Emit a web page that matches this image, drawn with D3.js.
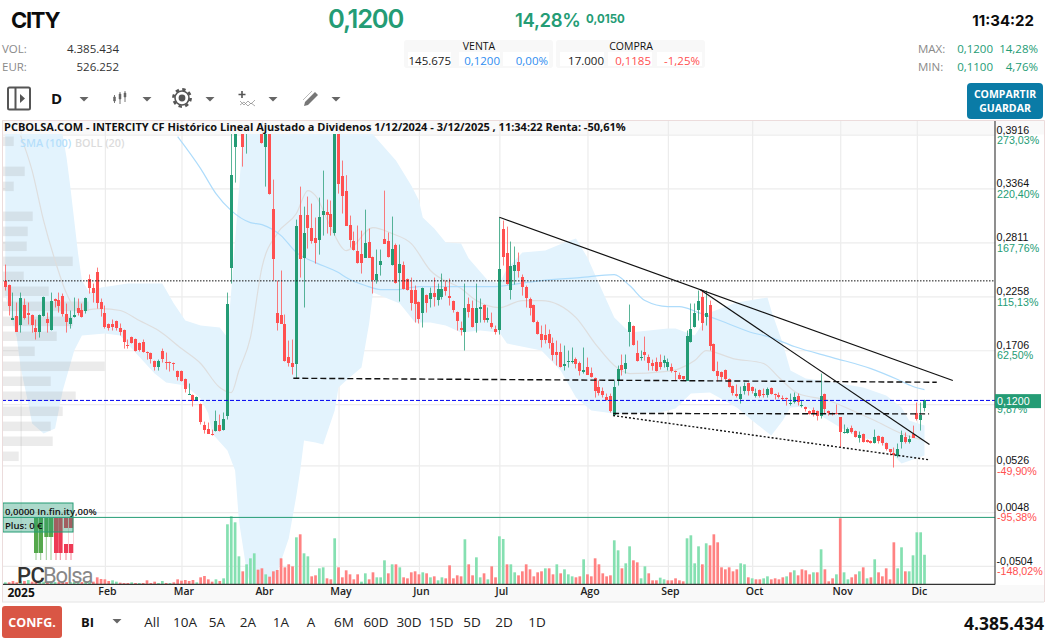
<!DOCTYPE html>
<html>
<head>
<meta charset="utf-8">
<title>CITY</title>
<script src="https://cdn.jsdelivr.net/npm/d3@7"></script>
<style>
body { margin: 0; background: #fff; }
svg { display: block; }
text { font-family: "Open Sans", sans-serif; }
</style>
</head>
<body>
<svg id="chart" width="1058" height="643"></svg>
<script>
// daily candles, EUR
var opens = [
.2420,.2379,.2021,.2062,.1970,.2174,.2092,.2072,.1939,.1898,
.2062,.2031,.1918,.2236,.2226,.2266,.2082,.1980,.2051,.2144,
.2123,.2113,.2441,.2348,.2512,.2205,.2092,.1980,.1970,.2010,
.1939,.1918,.1764,.1846,.1826,.1785,.1795,.1693,.1682,.1600,
.1539,.1703,.1590,.1590,.1580,.1498,.1498,.1416,.1252,.1252,
.1191,.1160,.0945,.0904,.0852,.0883,.0945,.0893,.1037,.2553,
.3783,.4000,.4100,.4000,.4050,.4150,.4300,.4300,.3793,.4000,
.3158,.2092,.2072,.1970,.1641,.1580,.1570,.3096,.2656,.3096,
.2963,.2861,.2840,.3096,.3127,.3107,.2902,.4000,.3496,.3342,
.2994,.2830,.2727,.2697,.2656,.2820,.2666,.2430,.2584,.2850,
.2830,.2584,.2789,.2502,.2584,.2441,.2328,.2328,.2205,.2092,
.2277,.2236,.2297,.2226,.2256,.2359,.2266,.2215,.2103,.1939,
.1898,.2185,.2144,.1990,.2133,.2174,.2021,.1990,.1928,.1918,
.2953,.2707,.2328,.2523,.2615,.2461,.2359,.2236,.2174,.2000,
.1877,.1867,.1877,.1785,.1693,.1693,.1549,.1590,.1590,.1621,
.1580,.1488,.1539,.1477,.1426,.1334,.1293,.1232,.1242,.1047,
.1396,.1559,.1518,.1898,.1959,.1682,.1631,.1693,.1641,.1580,
.1590,.1590,.1580,.1539,.1539,.1498,.1457,.1437,.1396,.1795,
.1949,.2123,.2256,.2051,.2174,.1775,.1498,.1488,.1508,.1416,
.1344,.1262,.1211,.1293,.1375,.1334,.1242,.1303,.1262,.1252,
.1324,.1262,.1252,.1221,.1221,.1160,.1180,.1242,.1139,.1129,
.1088,.1098,.1088,.1037,.1262,.1088,.1058,.1068,.1017,.0863,
.0863,.0914,.0883,.0811,.0852,.0791,.0781,.0760,.0832,.0822,
.0760,.0689,.0648,.0627,.0770,.0822,.0770,.0852,.1058,.0996,.1119];
var highs = [
.2584,.2379,.2297,.2195,.2297,.2236,.2195,.2072,.2021,.2072,
.2256,.2092,.2297,.2236,.2297,.2287,.2185,.2113,.2246,.2236,
.2185,.2246,.2482,.2389,.2553,.2236,.2164,.1980,.2021,.2010,
.1980,.1918,.1816,.1846,.1826,.1785,.1816,.1693,.1682,.1600,
.1610,.1723,.1682,.1590,.1580,.1498,.1498,.1416,.1365,.1252,
.1232,.1160,.0975,.0965,.0893,.1088,.1047,.1068,.2297,.4100,
.4200,.4300,.4200,.4200,.4300,.4400,.4350,.4400,.4200,.4100,
.3455,.2420,.2523,.2072,.1805,.1816,.3045,.3383,.3178,.3281,
.3209,.3066,.3270,.3547,.3250,.3240,.4100,.4100,.3650,.3500,
.3086,.2922,.2984,.2932,.3147,.2953,.2666,.2738,.2738,.3342,
.2912,.3076,.2799,.2789,.2615,.2441,.2451,.2369,.2205,.2348,
.2277,.2348,.2451,.2389,.2492,.2420,.2441,.2215,.2103,.2000,
.2389,.2246,.2215,.2389,.2236,.2174,.2144,.2092,.1959,.3066,
.3035,.2973,.2820,.2769,.2707,.2482,.2369,.2246,.2174,.2010,
.1959,.1970,.1918,.1836,.1805,.1775,.1754,.1703,.1734,.1631,
.1590,.1734,.1631,.1529,.1426,.1396,.1324,.1262,.1262,.1396,
.1549,.1662,.1662,.2174,.1959,.1805,.1703,.1846,.1662,.1610,
.1631,.1662,.1651,.1621,.1570,.1498,.1477,.1437,.1908,.2185,
.2185,.2318,.2318,.2318,.2215,.1775,.1590,.1488,.1508,.1416,
.1344,.1355,.1334,.1375,.1375,.1334,.1313,.1303,.1313,.1324,
.1324,.1262,.1273,.1242,.1221,.1262,.1273,.1262,.1191,.1129,
.1088,.1119,.1088,.1467,.1262,.1088,.1068,.1150,.1017,.0945,
.0914,.0934,.0883,.0873,.0852,.0791,.0781,.0893,.0832,.0822,
.0760,.0689,.0709,.0750,.0883,.0863,.0832,.0934,.1170,.1170,.1200];
var lows = [
.2318,.2062,.2021,.1898,.1887,.2021,.1970,.1887,.1816,.1836,
.2051,.1887,.1908,.2144,.2092,.2051,.1887,.1928,.2041,.2062,
.2041,.2082,.2287,.2195,.2133,.2051,.1928,.1908,.1908,.1908,
.1857,.1723,.1723,.1775,.1693,.1693,.1682,.1610,.1570,.1498,
.1498,.1580,.1508,.1488,.1498,.1396,.1385,.1273,.1252,.1129,
.1191,.0945,.0852,.0852,.0832,.0873,.0873,.0883,.0996,.2389,
.3424,.3950,.3588,.3721,.3950,.4000,.4000,.3824,.3383,.3301,
.2420,.1908,.1980,.1590,.1539,.1457,.1416,.2451,.2144,.2748,
.2799,.2594,.2686,.2881,.2902,.2881,.2881,.3311,.3107,.2984,
.2758,.2727,.2594,.2492,.2656,.2656,.2287,.2389,.2471,.2799,
.2656,.2574,.2389,.2205,.2328,.2318,.2113,.1990,.1980,.1939,
.2092,.2144,.2154,.2164,.2226,.2266,.2164,.2092,.1908,.1857,
.1703,.2041,.1939,.1887,.1990,.1990,.1990,.1928,.1867,.1867,
.2574,.2379,.2226,.2379,.2451,.2266,.2144,.2062,.1990,.1867,
.1734,.1775,.1723,.1600,.1549,.1529,.1498,.1529,.1570,.1519,
.1447,.1467,.1457,.1426,.1221,.1242,.1221,.1191,.1068,.1037,
.1344,.1447,.1467,.1744,.1754,.1590,.1600,.1600,.1498,.1498,
.1488,.1508,.1529,.1498,.1477,.1396,.1406,.1396,.1396,.1785,
.1939,.2010,.1908,.1959,.1703,.1488,.1385,.1396,.1396,.1324,
.1242,.1221,.1160,.1252,.1242,.1262,.1221,.1221,.1221,.1221,
.1252,.1201,.1211,.1191,.1139,.1139,.1160,.1139,.1119,.1078,
.1047,.1027,.0986,.1006,.1058,.1037,.1037,.1047,.0709,.0852,
.0852,.0852,.0811,.0760,.0760,.0760,.0750,.0750,.0750,.0729,
.0678,.0627,.0504,.0607,.0699,.0750,.0750,.0811,.0986,.0883,.1078];
var closes = [
.2359,.2164,.2041,.1898,.2246,.2041,.2072,.1970,.1898,.2072,
.2256,.1990,.2215,.2215,.2164,.2082,.2000,.2041,.2072,.2092,
.2051,.2246,.2348,.2297,.2195,.2133,.1949,.1939,.1939,.1939,
.1898,.1795,.1754,.1785,.1703,.1713,.1693,.1682,.1621,.1539,
.1600,.1621,.1580,.1580,.1570,.1437,.1396,.1313,.1262,.1191,
.1232,.0975,.0893,.0852,.0842,.0986,.0883,.1006,.2185,.3506,
.4000,.4150,.3793,.4100,.4150,.4300,.4200,.3824,.4100,.3301,
.2646,.1990,.1980,.1590,.1580,.1539,.2984,.2646,.2912,.2963,
.2830,.2810,.3076,.3137,.3096,.2973,.4000,.3404,.3291,.2984,
.2840,.2737,.2604,.2604,.2809,.2656,.2430,.2492,.2625,.2799,
.2666,.2748,.2400,.2594,.2338,.2328,.2195,.2185,.2031,.2348,
.2195,.2297,.2256,.2338,.2338,.2318,.2246,.2123,.2010,.1918,
.2144,.2103,.1949,.2144,.2154,.2021,.2041,.1949,.1898,.2543,
.2666,.2389,.2574,.2584,.2523,.2359,.2246,.2144,.2000,.1877,
.1816,.1816,.1785,.1662,.1662,.1539,.1570,.1600,.1600,.1570,
.1498,.1508,.1457,.1437,.1293,.1273,.1252,.1201,.1088,.1334,
.1518,.1508,.1580,.2000,.1764,.1600,.1641,.1662,.1580,.1549,
.1498,.1539,.1610,.1590,.1498,.1488,.1416,.1406,.1857,.1928,
.2092,.2215,.1990,.2092,.1754,.1498,.1447,.1437,.1416,.1334,
.1273,.1242,.1262,.1344,.1293,.1293,.1273,.1242,.1252,.1313,
.1262,.1252,.1232,.1211,.1211,.1170,.1232,.1180,.1150,.1109,
.1058,.1058,.1037,.1242,.1109,.1068,.1047,.1058,.0863,.0873,
.0904,.0873,.0822,.0842,.0770,.0770,.0760,.0822,.0781,.0760,
.0699,.0658,.0627,.0699,.0842,.0770,.0801,.0811,.0996,.1047,.1200];
// volume, millions of shares
var volumes = [
.25,.25,.45,.25,.45,.45,.6,.35,.3,.4,
.35,.3,.4,.3,.3,.35,.3,.3,.3,.35,
.3,.4,.45,.35,1,.75,.7,.45,.55,.35,
.2,.15,.15,.25,.15,.15,.15,.55,.15,.35,
.15,.45,.15,.15,.25,.7,.5,.6,.45,.6,
.25,1,1.2,.7,.35,.7,.45,.85,8.95,10.15,
9.25,4.15,1.9,2.95,3.85,4.6,2.15,2.35,1.45,1.1,
1.9,2.1,3.85,2.5,2.95,2.65,7,7.45,4.6,4.15,
1.15,1.3,2.35,2.5,.85,.7,6.85,2.5,1,2.05,
1.45,.7,1.45,.35,1.6,.7,1.75,1,1,3.55,
1.6,2.95,2.95,2.5,1,.85,1.75,1.9,1.45,1.75,
1.6,1,1.15,.55,1,.85,2.8,.85,1.3,1.15,
6.7,2.95,1.3,4,1,1.6,.7,2.65,1,7.15,
6.75,2.95,2.95,1.75,1.3,1.9,2.95,2.2,1.15,1.75,
1.9,2.35,2.35,1.45,2.95,1.6,2.2,1.45,1.15,1,
1.15,3.7,1.45,1.15,3.85,2.95,1.6,1.15,1.3,6.55,
5.05,2.35,3.1,5.65,3.55,3.25,.85,2.65,1.6,.55,
.55,.95,.7,.55,.55,.85,.55,.4,6.85,7.3,
3.1,5.65,2.95,6.1,5.8,7.45,6.25,2.5,2.2,2.5,
1.9,2.2,3.1,2.95,1,.85,.7,.7,.85,1.15,
.7,.85,.7,1,1.15,1.75,2.05,1.3,2.2,2.05,
1.45,1.75,1.75,5.2,2.2,.4,.85,1.45,9.85,1.75,
.7,1,1.45,1.9,2.5,.85,1,3.7,1.75,1.15,
2.35,.7,6.25,2.35,5.5,1.9,1.9,4.3,7.75,7.75,4.385];

// indicators, read at a handful of days
var smaDays = [45,51,55,59,64,67,72,76,81,87,89,94,98,102,108,119,128,134,140,150,159,163,167,173,176,181,188,194,200,206,216,226,233,237,240];
var smaValues = [.3896,.3568,.3312,.3137,.3014,.2994,.2881,.2707,.2604,.2502,.2451,.2369,.2328,.2328,.2359,.2359,.2359,.2389,.2420,.2451,.2482,.2369,.2215,.2154,.2154,.2092,.1990,.1898,.1836,.1744,.1631,.1518,.1406,.1334,.1303];
var bollMidDays = [4,7,10,13,16,19,25,30,35,40,46,51,56,59,61,64,67,71,76,79,81,85,89,96,101,106,111,119,123,129,135,140,149,154,160,163,172,176,180,183,190,198,202,207,215,220,227,234,240];
var bollMid = [.3906,.3547,.3035,.2625,.2287,.2113,.2133,.2113,.2010,.1908,.1723,.1570,.1324,.1272,.1498,.1836,.2553,.2902,.3107,.3342,.3291,.2963,.2727,.2963,.2902,.2799,.2523,.2338,.2215,.2143,.2215,.2215,.2041,.1775,.1518,.1467,.1487,.1518,.1600,.1703,.1621,.1570,.1426,.1262,.1191,.1109,.0986,.0852,.0781];
var bollUpperDays = [0,14,15,16,17,19,20,22,25,32,41,44,47,51,56,58,59,61,62,63,75,85,96,102,106,108,109,112,115,119,121,126,129,131,135,141,146,149,152,155,159,163,173,175,180,184,191,199,200,203,205,209,218,224,230,234,236,240];
var bollUpper = [.42,.40,.3906,.3680,.3373,.2697,.2420,.2297,.2348,.2389,.2389,.2184,.2010,.1959,.1939,.1836,.2318,.3342,.3906,.42,.5,.5,.3916,.3650,.3394,.3240,.3066,.2953,.2809,.2799,.2646,.2420,.2389,.2543,.2707,.2727,.2809,.2850,.2656,.2389,.2041,.1887,.1928,.1928,.1857,.2092,.2195,.2246,.2113,.1775,.1498,.1416,.1365,.1324,.1242,.1119,.0986,.0934];
var bollLowerDays = [0,3,4,6,7,10,13,15,18,20,26,30,33,39,42,47,51,53,54,58,60,61,63,65,68,71,74,76,77,78,81,83,86,87,89,93,95,96,103,107,111,115,119,124,129,131,140,145,149,153,159,171,175,179,184,191,195,200,203,205,209,218,223,228,234,240];
var bollLower = [.2266,.1836,.1529,.1160,.0955,.0852,.0904,.1293,.1703,.1857,.1877,.1857,.1723,.1467,.1375,.1344,.1211,.1057,.0852,.0678,.0473,-.0039,-.0551,-.0859,-.1063,-.0572,-.0223,.0217,.0473,.0781,.0760,.0740,.1088,.1324,.1396,.1529,.1980,.2297,.2185,.1990,.1990,.1959,.1887,.1908,.1887,.1775,.1703,.1498,.1221,.1088,.1057,.1068,.1109,.1262,.1273,.1119,.0986,.0832,.0986,.1119,.1129,.0914,.0812,.0781,.0545,.0627];

// volume at price, drawn from the left edge
var profilePrices = [.3896,.3588,.3434,.3127,.2973,.2820,.2666,.2512,.2359,.2205,.2051,.1898,.1744,.1590,.1437,.1283,.1129,.0975,.0822,.0668];
var profileVolumes = [1.1,2.2,1.1,3,2.5,2.4,7,2.1,4.6,8.6,7,5.4,3.2,10.2,4.8,7.3,6,4.8,5,1.6];

// hand drawn lines: day and price of both ends
var solidLines = [[129,.3069,247.4,.1396],[181.4,.2328,241.3,.0740]];
var dashedLines = [[75.2,.1419,243.2,.1378],[158.7,.1058,241.2,.1054]];
var dottedLines = [[158.7,.1037,241.3,.0583]];
var resistance = .2417;
var lastPrice = .12;

var priceTicks = [.3916,.3364,.2811,.2258,.1706,.1153,.0526,.0048,-.0504];
var percentLabels = ["273,03%","220,40%","167,76%","115,13%","62,50%","9,87%","-49,90%","-95,38%","-148,02%"];
var monthDays = [4,26,46,67,87,108,129,152,173,195,218,238];
var monthLabels = ["2025","Feb","Mar","Abr","May","Jun","Jul","Ago","Sep","Oct","Nov","Dic"];
var rangeLabels = ["All","10A","5A","2A","1A","A","6M","60D","30D","15D","5D","2D","1D"];
var rangeCentres = [152,185,217,248,281,311,344,376,409,441,472,504,537];

var GREEN = "#249c75", RED = "#ff5050", GREY = "#8a8a8a", BLUE = "#2f8df0";
var days = d3.range(opens.length);

var svg = d3.select("#chart");
var x = d3.scaleLinear().domain([0, 240]).range([5.3, 924.5]);
var y = d3.scaleLinear().domain([.3916, -.0504]).range([134.6, 565.9]);
var yVol = d3.scaleLinear().domain([0, 10]).range([584, 517.3]);
var xProfile = d3.scaleLinear().domain([0, 10.2]).range([2.7, 104.7]);

svg.append("clipPath").attr("id", "plot").append("rect")
    .attr("x", 2).attr("y", 134).attr("width", 993).attr("height", 450);

function label(px, py, str, size, color, weight, anchor, family) {
    return svg.append("text")
        .attr("x", px).attr("y", py)
        .attr("font-size", size)
        .attr("fill", color || "#111")
        .attr("font-weight", weight || 400)
        .attr("text-anchor", anchor || "start")
        .style("font-family", family || null)
        .text(str);
}
function caret(px, py) {
    svg.append("path")
        .attr("d", "M" + (px - 4.5) + "," + (py - 2) + "h9l-4.5,4.5z")
        .attr("fill", "#666");
}

// header
label(11, 28, "CITY", 22, "#0c0c0c", 700, "start", "Inter").attr("letter-spacing", -1.3);
label(328, 28, "0,1200", 25.5, GREEN, 600, "start", "Inter").attr("letter-spacing", -1.2);
label(515, 27, "14,28%", 18.5, GREEN, 600, "start", "Inter").attr("letter-spacing", -.3);
label(586, 23, "0,0150", 11.5, GREEN, 700, "start", "Inter");
label(1034, 26, "11:34:22", 15, "#0c0c0c", 700, "end", "Inter");
label(2, 53, "VOL:", 11.5, GREY);
label(119, 53, "4.385.434", 11.5, "#333", 400, "end");
label(2, 71, "EUR:", 11.5, GREY);
label(119, 71, "526.252", 11.5, "#333", 400, "end");

[[404, 149], [556, 149]].forEach(function (b) {
    svg.append("rect").attr("x", b[0]).attr("y", 40).attr("width", b[1]).attr("height", 28)
        .attr("rx", 3).attr("fill", "#f8f8f8");
});
[[408, 43], [459, 41], [503, 46], [560, 44], [608, 44], [657, 45]].forEach(function (b) {
    svg.append("rect").attr("x", b[0]).attr("y", 52).attr("width", b[1]).attr("height", 14).attr("fill", "#fff");
});
label(479, 50, "VENTA", 10.5, "#111", 400, "middle");
label(631, 50, "COMPRA", 10.5, "#111", 400, "middle");
label(451, 65, "145.675", 11.5, "#222", 400, "end");
label(500, 65, "0,1200", 11.5, BLUE, 400, "end");
label(548, 65, "0,00%", 11.5, BLUE, 400, "end");
label(604, 65, "17.000", 11.5, "#222", 400, "end");
label(651, 65, "0,1185", 11.5, RED, 400, "end");
label(700, 65, "-1,25%", 11.5, RED, 400, "end");

label(918, 53, "MAX:", 11.5, GREY);
label(918, 71, "MIN:", 11.5, GREY);
label(993, 53, "0,1200", 11.5, GREEN, 400, "end");
label(993, 71, "0,1100", 11.5, GREEN, 400, "end");
label(1038, 53, "14,28%", 11.5, GREEN, 400, "end");
label(1038, 71, "4,76%", 11.5, GREEN, 400, "end");

svg.append("rect").attr("x", 967).attr("y", 83).attr("width", 76).attr("height", 36)
    .attr("rx", 4).attr("fill", "#0a7ba6");
label(1005, 98, "COMPARTIR", 10.5, "#fff", 700, "middle");
label(1005, 112, "GUARDAR", 10.5, "#fff", 700, "middle");

// toolbar icons
var tools = svg.append("g").attr("fill", "none").attr("stroke", "#555");
tools.append("rect").attr("x", 8).attr("y", 87.5).attr("width", 22).attr("height", 22).attr("rx", 1.5).attr("stroke-width", 2);
tools.append("path").attr("d", "M15.5,87.5v22").attr("stroke-width", 2);
tools.append("path").attr("d", "M20,94l5,4.5l-5,4.5z").attr("fill", "#555").attr("stroke", "none");
label(51, 104, "D", 15, "#111", 700);
tools.append("path").attr("d", "M114.5,95v8M120,92v12M125,91v11").attr("stroke-width", 1).attr("stroke", "#777");
tools.append("path").attr("d", "M113.5,97h2v4h-2zM119,94h2v5h-2zM124,93h2v4h-2z").attr("fill", "#666").attr("stroke", "#666").attr("stroke-width", .5);
tools.append("circle").attr("cx", 182).attr("cy", 98).attr("r", 8.6).attr("stroke-width", 2.6).attr("stroke-dasharray", "3.4,3.35");
tools.append("circle").attr("cx", 182).attr("cy", 98).attr("r", 7).attr("stroke-width", 1.6);
tools.append("circle").attr("cx", 182).attr("cy", 98).attr("r", 3.4).attr("fill", "#555").attr("stroke", "none");
tools.append("path").attr("d", "M242,91v7M238.5,94.5h7").attr("stroke-width", 1.6);
tools.append("path").attr("d", "M240,101l4,4l4,-4l3,3l4,-4M240,105l4,-3l4,4l3,-3l4,3").attr("stroke-width", .7).attr("stroke", "#888");
tools.append("path").attr("d", "M305,102l10,-10l3,3l-10,10l-4,1z").attr("fill", "#777").attr("stroke", "none");
tools.append("path").attr("d", "M303,100l9,-9").attr("stroke", "#bbb").attr("stroke-width", 1);
[84, 147, 210, 273, 336].forEach(function (px) { caret(px, 99); });

// title and x axis strips
svg.append("rect").attr("x", 2).attr("y", 120.5).attr("width", 1042).attr("height", 14).attr("fill", "#f9f9f9");
svg.append("rect").attr("x", 2).attr("y", 585).attr("width", 1042).attr("height", 17).attr("fill", "#f9f9f9");

// grids, made with the axes
svg.append("g").attr("class", "grid").attr("transform", "translate(0,584)")
    .call(d3.axisBottom(x).tickValues(monthDays).tickSize(-464).tickFormat(""));
svg.append("g").attr("class", "grid").attr("transform", "translate(995,0)")
    .call(d3.axisLeft(y).tickValues(priceTicks).tickSize(993).tickFormat(""));
svg.selectAll(".grid .domain").remove();
svg.selectAll(".grid line").attr("stroke", "#ececec").attr("stroke-width", 1.2);

var plot = svg.append("g").attr("clip-path", "url(#plot)");

// bollinger band
var bandPoints = bollUpperDays.map(function (d, i) { return [d, bollUpper[i]]; })
    .concat(bollLowerDays.map(function (d, i) { return [d, bollLower[i]]; }).reverse());
var pointLine = d3.line()
    .x(function (d) { return x(d[0]); })
    .y(function (d) { return y(d[1]); });
plot.append("path")
    .attr("d", pointLine(bandPoints) + "Z")
    .attr("fill", "#e3f3fd");

// volume at price
plot.selectAll(".profile").data(profilePrices).enter().append("rect")
    .attr("class", "profile")
    .attr("x", xProfile(0))
    .attr("y", function (d) { return y(d); })
    .attr("width", function (d, i) { return xProfile(profileVolumes[i]) - xProfile(0); })
    .attr("height", 9.5)
    .attr("fill", "#999")
    .attr("fill-opacity", .2);

var curveLine = d3.line()
    .curve(d3.curveMonotoneX)
    .x(function (d) { return x(d[0]); })
    .y(function (d) { return y(d[1]); });
plot.append("path")
    .attr("d", curveLine(bollMidDays.map(function (d, i) { return [d, bollMid[i]]; })))
    .attr("fill", "none").attr("stroke", "#dedede").attr("stroke-width", 1.2);
plot.append("path")
    .attr("d", curveLine(smaDays.map(function (d, i) { return [d, smaValues[i]]; })))
    .attr("fill", "none").attr("stroke", "#aedcfb").attr("stroke-width", 1.2);

// volume bars
plot.selectAll(".vol").data(days).enter().append("rect")
    .attr("class", "vol")
    .attr("x", function (i) { return x(i) - 1.35; })
    .attr("y", function (i) { return yVol(volumes[i]); })
    .attr("width", 2.7)
    .attr("height", function (i) { return yVol(0) - yVol(volumes[i]); })
    .attr("fill", function (i) { return i === 0 || closes[i] >= closes[i - 1] ? "#85e0b1" : "#ff8282"; });

// candles, snapped to the pixel grid so the bodies stay solid
function candleColor(i) { return closes[i] >= opens[i] ? GREEN : RED; }
plot.selectAll(".wick").data(days).enter().append("line")
    .attr("class", "wick")
    .attr("x1", function (i) { return Math.floor(x(i)) + .5; })
    .attr("x2", function (i) { return Math.floor(x(i)) + .5; })
    .attr("y1", function (i) { return y(highs[i]); })
    .attr("y2", function (i) { return y(lows[i]); })
    .attr("stroke", candleColor)
    .attr("stroke-opacity", .75)
    .attr("stroke-width", 1);
plot.selectAll(".body").data(days).enter().append("rect")
    .attr("class", "body")
    .attr("x", function (i) { return Math.floor(x(i)) - 1; })
    .attr("y", function (i) { return Math.round(y(Math.max(opens[i], closes[i]))); })
    .attr("width", 3)
    .attr("height", function (i) { return Math.max(1, Math.round(Math.abs(y(opens[i]) - y(closes[i])))); })
    .attr("fill", candleColor);

// horizontals and hand drawn lines
plot.append("line")
    .attr("x1", 2).attr("x2", 995).attr("y1", y(resistance)).attr("y2", y(resistance))
    .attr("stroke", "#111").attr("stroke-dasharray", "1.5,1.5");
plot.append("line")
    .attr("x1", 2).attr("x2", 995).attr("y1", y(lastPrice) + .8).attr("y2", y(lastPrice) + .8)
    .attr("stroke", "#0000f0").attr("stroke-dasharray", "4,2");

function drawLines(list, width, dash) {
    plot.selectAll(null).data(list).enter().append("line")
        .attr("x1", function (d) { return x(d[0]); })
        .attr("y1", function (d) { return y(d[1]); })
        .attr("x2", function (d) { return x(d[2]); })
        .attr("y2", function (d) { return y(d[3]); })
        .attr("stroke", "#111")
        .attr("stroke-width", width)
        .attr("stroke-dasharray", dash);
}
drawLines(solidLines, 1.2, null);
drawLines(dashedLines, 1.4, "6,3");
drawLines(dottedLines, 1.4, "2,2");

// legend
label(20, 147, "SMA (100)", 10.8, "#b6dffb", 600);
label(75, 147, "BOLL (20)", 10.8, "#dcdcdc", 600);

// logo in the corner, with the info box over it
var logo = svg.append("g");
[[34, 4.3, "#55a84c"], [38.7, 4.3, "#55a84c"], [44.3, 4.3, "#55a84c"], [49, 4.3, "#55a84c"], [54, 4.3, "#ee3a55"], [58.3, 4.3, "#ee3a55"], [64, 4.3, "#ee3a55"], [69, 4.3, "#ee3a55"]].forEach(function (b, k) {
    var short = k === 2 || k === 3;
    logo.append("line").attr("x1", b[0] + 2).attr("x2", b[0] + 2).attr("y1", 520).attr("y2", 560)
        .attr("stroke", b[2]).attr("stroke-opacity", .6);
    logo.append("rect").attr("x", b[0]).attr("y", 518).attr("width", b[1]).attr("height", short ? 19 : 35).attr("fill", b[2]);
    if (k > 5) {
        logo.append("rect").attr("x", b[0]).attr("y", 528).attr("width", b[1]).attr("height", 16).attr("fill", "#fff");
    }
});
label(17, 583, "PC", 22, "#333", 500, "start", "Roboto").attr("letter-spacing", -.6);
label(43, 583, "Bolsa", 22, "#888", 400, "start", "Roboto").attr("letter-spacing", -1.1);
svg.append("rect").attr("x", 3).attr("y", 503).attr("width", 70).attr("height", 29)
    .attr("fill", "#249c75").attr("fill-opacity", .38).attr("stroke", "#249c75");
svg.append("text").attr("x", 5).attr("y", 515).attr("font-size", 9.5).attr("font-weight", 600).attr("fill", "#111").text("0,0000  In.fin.ity,00%");
svg.append("text").attr("x", 5).attr("y", 529).attr("font-size", 9.5).attr("font-weight", 600).attr("fill", "#111").text("Plus: 0 €");

// frame
svg.append("line").attr("x1", 2).attr("x2", 995).attr("y1", 517.4).attr("y2", 517.4).attr("stroke", "#249c75");
svg.append("line").attr("x1", 995).attr("x2", 995).attr("y1", 121).attr("y2", 584.5).attr("stroke", "#444").attr("stroke-width", 1.2);
svg.append("line").attr("x1", 2).attr("x2", 995).attr("y1", 584.3).attr("y2", 584.3).attr("stroke", "#333").attr("stroke-width", 1.2);
svg.append("path").attr("d", "M2.5,602V120.5H1044.5V602").attr("fill", "none").attr("stroke", "#ecdcdc");
svg.append("line").attr("x1", 2).attr("x2", 1044).attr("y1", 602).attr("y2", 602).attr("stroke", "#e4e4e4");

// title
svg.append("text")
    .attr("x", 4).attr("y", 131)
    .attr("font-size", 11).attr("font-weight", 700).attr("fill", "#111")
    .text("PCBOLSA.COM - INTERCITY CF Histórico Lineal Ajustado a Dividenos 1/12/2024 - 3/12/2025 , 11:34:22 Renta: -50,61%");

// price axis
var comma = function (v) { return v.toFixed(4).replace(".", ","); };
var priceAxis = svg.append("g").attr("transform", "translate(995,0)")
    .call(d3.axisRight(y).tickValues(priceTicks).tickSize(0).tickPadding(1.5).tickFormat(comma));
priceAxis.select(".domain").remove();
priceAxis.selectAll("text")
    .attr("dy", -1.6)
    .style("font-family", "Liberation Sans")
    .attr("font-size", 10.7)
    .attr("fill", "#111");
svg.selectAll(".pct").data(priceTicks).enter().append("text")
    .attr("class", "pct")
    .attr("x", 997)
    .attr("y", function (d) { return y(d) + 9.2; })
    .attr("font-size", 10.7)
    .style("font-family", "Liberation Sans")
    .attr("fill", function (d, i) { return percentLabels[i].charAt(0) === "-" ? RED : GREEN; })
    .text(function (d, i) { return percentLabels[i]; });
svg.append("rect").attr("x", 995).attr("y", y(lastPrice) - 5.5).attr("width", 46).attr("height", 14).attr("fill", GREEN);
svg.append("text").attr("x", 997).attr("y", y(lastPrice) + 5)
    .attr("font-size", 10.7).style("font-family", "Liberation Sans").attr("fill", "#fff").text(comma(lastPrice));

// month axis
var monthAxis = svg.append("g").attr("transform", "translate(0,584)")
    .call(d3.axisBottom(x).tickValues(monthDays).tickSize(0).tickPadding(4)
        .tickFormat(function (d, i) { return monthLabels[i]; }));
monthAxis.select(".domain").remove();
monthAxis.selectAll("text")
    .attr("dx", 2)
    .attr("font-size", 10.5)
    .attr("font-weight", 600)
    .attr("fill", "#222")
    .style("font-family", "Open Sans");
monthAxis.select("text").attr("dx", 0).attr("font-size", 12).attr("font-weight", 700).attr("fill", "#111");

// footer
svg.append("rect").attr("x", 2).attr("y", 606).attr("width", 60).attr("height", 32).attr("rx", 3).attr("fill", "#d95645");
label(32, 627, "CONFG.", 12.5, "#fff", 700, "middle");
label(81, 627, "BI", 13, "#111", 700);
caret(117, 621);
svg.selectAll(".range").data(rangeLabels).enter().append("text")
    .attr("class", "range")
    .attr("x", function (d, i) { return rangeCentres[i]; })
    .attr("y", 627)
    .attr("font-size", 13.5)
    .attr("text-anchor", "middle")
    .attr("fill", "#222")
    .text(function (d) { return d; });
label(1044, 630, "4.385.434", 17.5, "#111", 700, "end");
</script>
</body>
</html>
